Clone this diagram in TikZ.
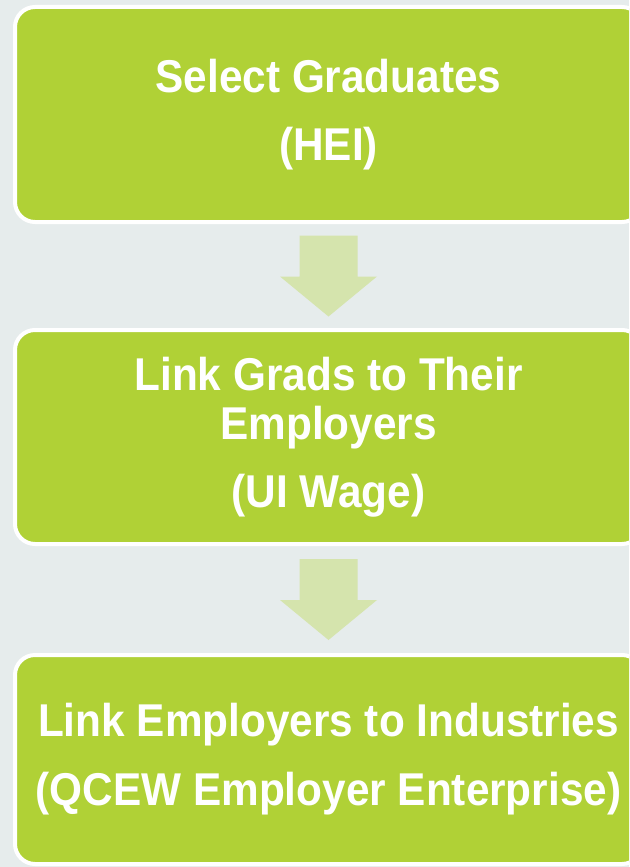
\documentclass[tikz,border=0pt]{standalone}
\usepackage{fontspec}
\usepackage{tikz}
\usetikzlibrary{positioning,calc}
\newfontfamily\stepfont{Liberation Sans}[FakeStretch=0.92]
\definecolor{bggray}{RGB}{230,236,236}
\definecolor{boxgreen}{RGB}{176,209,54}
\definecolor{arrowgreen}{RGB}{213,228,173}

\begin{document}
\begin{tikzpicture}[
  x=1pt,y=-1pt,
  stepbox/.style={rectangle,rounded corners=20pt,fill=boxgreen,draw=white,line width=4pt,minimum width=627pt,minimum height=#1,align=center,text=white,font=\stepfont\bfseries\fontsize{46}{49}\selectfont},
  downarrow/.style={fill=arrowgreen},
]
\useasboundingbox (0,0) rectangle (629,867);
\clip (0,0) rectangle (629,867);
\fill[bggray] (0,0) rectangle (629,867);

\node (sel) [stepbox=215pt] at (328.5,114.5) {Select Graduates\\[19pt](HEI)};
\node (link) [stepbox=214pt,below=104pt of sel] {Link Grads to Their\\Employers\\[19pt](UI Wage)};
\node (ind) [stepbox=209pt,below=107pt of link] {Link Employers to Industries\\[20pt](QCEW Employer Enterprise)};

\coordinate (a1) at ($(sel.south)!0.5!(link.north)$);
\coordinate (a2) at ($(link.south)!0.5!(ind.north)$);
\foreach \c in {a1,a2}
  \fill[downarrow] ($(\c)+(-29,-40.5)$) -- ++(58,0) -- ++(0,41) -- ++(19.5,0)
    -- ($(\c)+(0,40.5)$) -- ($(\c)+(-48.5,0.5)$) -- ++(19.5,0) -- cycle;
\end{tikzpicture}
\end{document}
